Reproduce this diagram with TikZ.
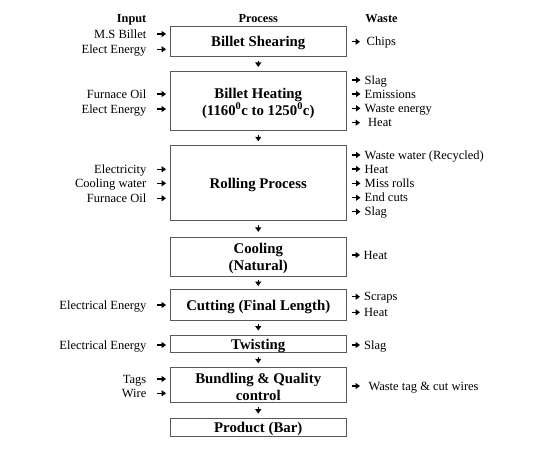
\documentclass[tikz,border=0pt]{standalone}
\usepackage{fontspec}
\setmainfont{Liberation Serif}
\usetikzlibrary{arrows.meta}
\newcommand\pbstrut{\rule{0pt}{14pt}}
\tikzset{
  procbox/.style={draw=black!65, line width=0.9pt, minimum width=176.5pt, inner sep=0pt,
    align=center, font=\fontsize{14.8}{17}\selectfont\bfseries},
  lab/.style={inner sep=0pt, font=\fontsize{12.5}{14}\selectfont, text height=9.5pt, text depth=1.5pt},
  hdr/.style={inner sep=0pt, font=\fontsize{12.3}{14}\selectfont\bfseries, text height=9pt, text depth=2pt},
  tipped/.style={line width=1.5pt, -{Triangle[width=6pt,length=4.5pt]}},
  flow/.style={tipped, shorten <=#1, shorten >=#1},
  inarr/.style={tipped, shorten <=10.5pt, shorten >=3.5pt},
  outarr/.style={tipped, shorten <=5pt, shorten >=4pt},
}
\begin{document}
\begin{tikzpicture}[x=1pt,y=-1pt]
\useasboundingbox (0,0) rectangle (550,450);
% headers
\node[hdr, anchor=east] (hin) at (146.5,19) {Input};
\node[hdr] (hpr) at (258.25,19) {Process};
\node[hdr] (hwa) at (381.5,19) {Waste};
% process boxes
\node[procbox, minimum height=29.3pt] (b1) at (258.25,41.35) {\pbstrut Billet Shearing};
\node[procbox, minimum height=59pt] (b2) at (258.25,101.2) {\pbstrut Billet Heating\\(1160\textsuperscript{0}c to 1250\textsuperscript{0}c)};
\node[procbox, minimum height=74.3pt] (b3) at (258.25,182.85) {\pbstrut Rolling Process};
\node[procbox, minimum height=39.4pt] (b4) at (258.25,257) {\pbstrut Cooling\\(Natural)};
\node[procbox, minimum height=30.7pt] (b5) at (258.25,304.65) {\pbstrut Cutting (Final Length)};
\node[procbox, minimum height=17.7pt] (b6) at (258.25,343.85) {\pbstrut Twisting};
\node[procbox, minimum height=35pt] (b7) at (258.25,385.2) {\pbstrut Bundling \& Quality\\control};
\node[procbox, minimum height=17.7pt] (b8) at (258.25,427.15) {\pbstrut Product (Bar)};
% flow arrows
\draw[flow=4.3pt] (b1.south) -- (b2.north);
\draw[flow=4pt] (b2.south) -- (b3.north);
\draw[flow=5pt] (b3.south) -- (b4.north);
\draw[flow=2.8pt] (b4.south) -- (b5.north);
\draw[flow=4pt] (b5.south) -- (b6.north);
\draw[flow=4pt] (b6.south) -- (b7.north);
\draw[flow=4.2pt] (b7.south) -- (b8.north);
% inputs
\node[lab, anchor=east] (i1) at (146.5,34) {M.S Billet};
\node[lab, anchor=east] (i2) at (146.5,49.3) {Elect Energy};
\node[lab, anchor=east] (i3) at (146.5,94) {Furnace Oil};
\node[lab, anchor=east] (i4) at (146.5,109) {Elect Energy};
\node[lab, anchor=east] (i5) at (146.5,169.3) {Electricity};
\node[lab, anchor=east] (i6) at (146.5,183.3) {Cooling water};
\node[lab, anchor=east] (i7) at (146.5,198.3) {Furnace Oil};
\node[lab, anchor=east] (i8) at (146.5,305) {Electrical Energy};
\node[lab, anchor=east] (i9) at (146.5,345) {Electrical Energy};
\node[lab, anchor=east] (i10) at (146.5,379) {Tags};
\node[lab, anchor=east] (i11) at (146.5,393.3) {Wire};
\draw[inarr] (i1.east) -- (i1.east -| b1.west);
\draw[inarr] (i2.east) -- (i2.east -| b1.west);
\draw[inarr] (i3.east) -- (i3.east -| b2.west);
\draw[inarr] (i4.east) -- (i4.east -| b2.west);
\draw[inarr] (i5.east) -- (i5.east -| b3.west);
\draw[inarr] (i6.east) -- (i6.east -| b3.west);
\draw[inarr] (i7.east) -- (i7.east -| b3.west);
\draw[inarr] (i8.east) -- (i8.east -| b5.west);
\draw[inarr] (i9.east) -- (i9.east -| b6.west);
\draw[inarr] (i10.east) -- (i10.east -| b7.west);
\draw[inarr] (i11.east) -- (i11.east -| b7.west);
% wastes
\node[lab, anchor=west] (o1) at (366.5,41.7) {Chips};
\node[lab, anchor=west] (o2) at (364.5,80) {Slag};
\node[lab, anchor=west] (o3) at (364.5,94) {Emissions};
\node[lab, anchor=west] (o4) at (364.5,108.3) {Waste energy};
\node[lab, anchor=west] (o5) at (368,122.7) {Heat};
\node[lab, anchor=west] (o6) at (364.5,155) {Waste water (Recycled)};
\node[lab, anchor=west] (o7) at (364.5,169) {Heat};
\node[lab, anchor=west] (o8) at (364.5,183.3) {Miss rolls};
\node[lab, anchor=west] (o9) at (364.5,197.7) {End cuts};
\node[lab, anchor=west] (o10) at (364.5,211.7) {Slag};
\node[lab, anchor=west] (o11) at (363.5,255) {Heat};
\node[lab, anchor=west] (o12) at (364,296.7) {Scraps};
\node[lab, anchor=west] (o13) at (364,312.3) {Heat};
\node[lab, anchor=west] (o14) at (364,345) {Slag};
\node[lab, anchor=west] (o15) at (368.3,386) {Waste tag \& cut wires};
\draw[outarr, shorten >=6.5pt] (o1.west -| b1.east) -- (o1.west);
\draw[outarr] (o2.west -| b2.east) -- (o2.west);
\draw[outarr] (o3.west -| b2.east) -- (o3.west);
\draw[outarr] (o4.west -| b2.east) -- (o4.west);
\draw[outarr, shorten >=8pt] (o5.west -| b2.east) -- (o5.west);
\draw[outarr] (o6.west -| b3.east) -- (o6.west);
\draw[outarr] (o7.west -| b3.east) -- (o7.west);
\draw[outarr] (o8.west -| b3.east) -- (o8.west);
\draw[outarr] (o9.west -| b3.east) -- (o9.west);
\draw[outarr] (o10.west -| b3.east) -- (o10.west);
\draw[outarr, shorten >=3.5pt] (o11.west -| b4.east) -- (o11.west);
\draw[outarr] (o12.west -| b5.east) -- (o12.west);
\draw[outarr] (o13.west -| b5.east) -- (o13.west);
\draw[outarr] (o14.west -| b6.east) -- (o14.west);
\draw[outarr, shorten >=8.3pt] (o15.west -| b7.east) -- (o15.west);
\end{tikzpicture}
\end{document}
